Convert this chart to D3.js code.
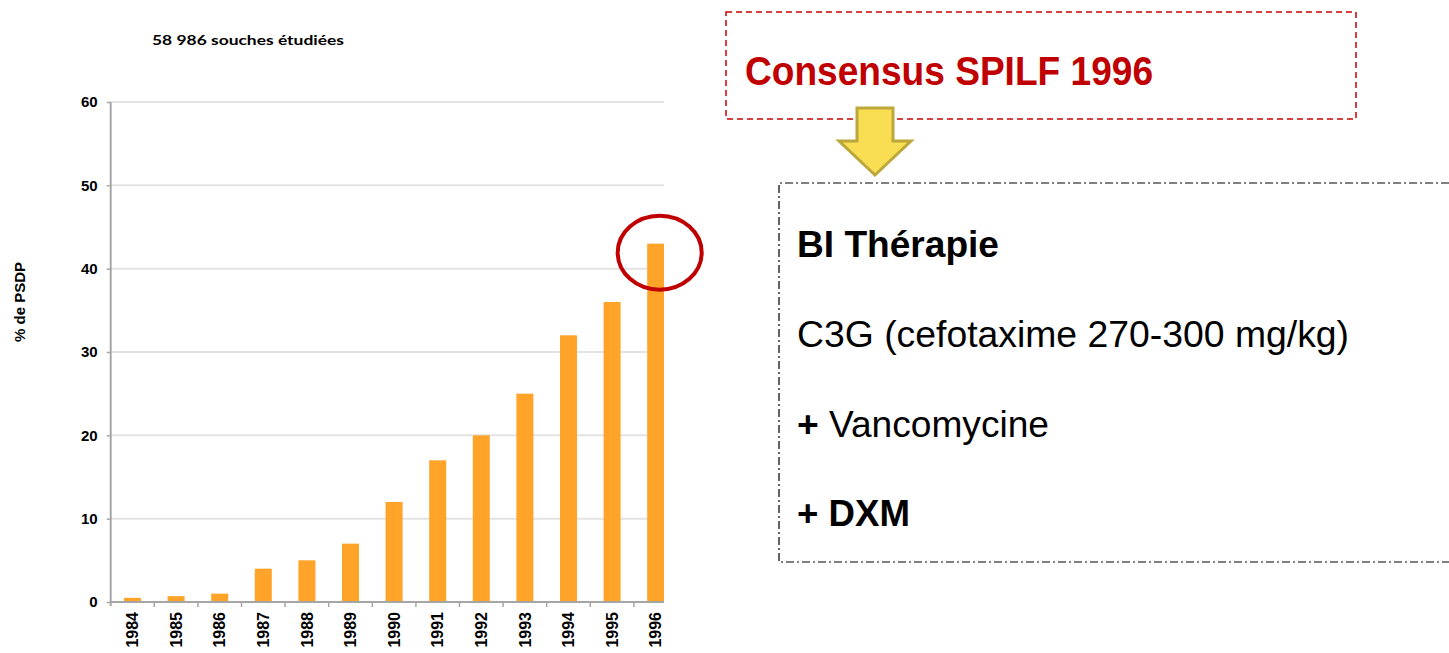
<!DOCTYPE html>
<html>
<head>
<meta charset="utf-8">
<script src="https://cdn.jsdelivr.net/npm/d3@7"></script>
<style>
  body { margin: 0; background: #fff; }
  svg { display: block; font-family: "Liberation Sans", Arial, sans-serif; }
</style>
</head>
<body>
<svg id="chart" width="1449" height="653"></svg>
<script>
// Data
const years = ['1984', '1985', '1986', '1987', '1988', '1989', '1990', '1991', '1992', '1993', '1994', '1995', '1996'];
const psdp = [0.5, 0.7, 1, 4, 5, 7, 12, 17, 20, 25, 32, 36, 43];
const yTicks = [0, 10, 20, 30, 40, 50, 60];
const highlightYear = '1996';

const svg = d3.select('#chart');

// Plot area
const plotLeft = 110.7, plotBottom = 602, plotTop = 102;
const step = 43.6;
const plotRight = 664;

const x = d3.scaleBand()
    .domain(years)
    .range([plotLeft, plotLeft + step * years.length])
    .paddingInner(0.61)
    .paddingOuter(0.305);

const y = d3.scaleLinear()
    .domain([0, 60])
    .range([plotBottom, plotTop]);

svg.append('defs').append('clipPath')
    .attr('id', 'plotClip')
    .append('rect')
    .attr('x', plotLeft).attr('y', 0)
    .attr('width', plotRight - plotLeft).attr('height', 653);

// Gridlines
svg.append('g')
    .selectAll('line')
    .data(yTicks.filter(d => d > 0))
    .enter()
    .append('line')
    .attr('x1', plotLeft).attr('x2', plotRight)
    .attr('y1', d => y(d)).attr('y2', d => y(d))
    .attr('stroke', '#e3e3e3')
    .attr('stroke-width', 2);

// Bars
svg.append('g')
    .attr('clip-path', 'url(#plotClip)')
    .selectAll('rect')
    .data(years)
    .enter()
    .append('rect')
    .attr('x', d => x(d))
    .attr('width', x.bandwidth())
    .attr('y', (d, i) => y(psdp[i]))
    .attr('height', (d, i) => plotBottom - y(psdp[i]))
    .attr('fill', '#ffa329');

// Y axis
const yAxis = svg.append('g')
    .attr('transform', `translate(${plotLeft},0)`)
    .call(d3.axisLeft(y).tickValues(yTicks).tickSize(4).tickPadding(9));
yAxis.select('.domain').attr('stroke', '#a6a6a6').attr('stroke-width', 2).attr('d', `M0,${plotTop}V${plotBottom + 4}`);
yAxis.selectAll('.tick line').attr('stroke', '#a6a6a6').attr('stroke-width', 1.5);
yAxis.selectAll('.tick text')
    .style('font-size', '15px')
    .style('font-weight', 'bold')
    .style('fill', '#000');

// X axis
const xAxis = svg.append('g')
    .attr('transform', `translate(0,${plotBottom})`)
    .call(d3.axisBottom(x).tickSize(0).tickPadding(10));
xAxis.select('.domain').attr('stroke', '#a6a6a6').attr('stroke-width', 2).attr('d', `M${plotLeft},0H${plotRight}`);
xAxis.selectAll('.tick text')
    .attr('transform', 'rotate(-90)')
    .attr('x', -10)
    .attr('y', 0)
    .attr('dy', '0.35em')
    .style('text-anchor', 'end')
    .style('font-size', '16px')
    .style('font-weight', 'bold')
    .style('fill', '#000');

// Category separators below the axis
svg.append('g')
    .selectAll('line')
    .data(years.slice(1))
    .enter()
    .append('line')
    .attr('x1', d => x(d) - x.step() * x.paddingInner() / 2)
    .attr('x2', d => x(d) - x.step() * x.paddingInner() / 2)
    .attr('y1', plotBottom).attr('y2', plotBottom + 5)
    .attr('stroke', '#a6a6a6')
    .attr('stroke-width', 1.5);

// Title and axis label
svg.append('text')
    .attr('x', 152).attr('y', 45)
    .attr('textLength', 192)
    .attr('lengthAdjust', 'spacingAndGlyphs')
    .style('font-family', 'Lato, "Open Sans", sans-serif')
    .style('font-size', '14px')
    .style('font-weight', 'bold')
    .text('58 986 souches étudiées');

svg.append('text')
    .attr('transform', 'translate(25,302) rotate(-90)')
    .attr('text-anchor', 'middle')
    .attr('textLength', 80)
    .attr('lengthAdjust', 'spacingAndGlyphs')
    .style('font-size', '14px')
    .style('font-weight', 'bold')
    .text('% de PSDP');

// Highlight ring around the last bar
const hi = years.indexOf(highlightYear);
svg.append('ellipse')
    .attr('cx', x(highlightYear) + x.bandwidth() / 2 + 4)
    .attr('cy', y(psdp[hi]) + 9)
    .attr('rx', 42)
    .attr('ry', 37)
    .attr('fill', 'none')
    .attr('stroke', '#c00000')
    .attr('stroke-width', 4);

// Consensus box
svg.append('rect')
    .attr('x', 726).attr('y', 12)
    .attr('width', 630).attr('height', 107)
    .attr('fill', 'none')
    .attr('stroke', '#cc0000')
    .attr('stroke-width', 1.5)
    .attr('stroke-dasharray', '6,4');

svg.append('text')
    .attr('x', 745).attr('y', 85)
    .attr('textLength', 408)
    .attr('lengthAdjust', 'spacingAndGlyphs')
    .style('font-size', '40px')
    .style('font-weight', 'bold')
    .style('fill', '#c00000')
    .text('Consensus SPILF 1996');

// Arrow
svg.append('path')
    .attr('d', 'M857,108 L893,108 L893,141 L911,141 L875,175 L839,141 L857,141 Z')
    .attr('fill', '#f9dd52')
    .attr('stroke', '#bca73a')
    .attr('stroke-width', 3)
    .attr('stroke-linejoin', 'miter');

// Therapy box
svg.append('path')
    .attr('d', 'M1449,183 H779 V562 H1449')
    .attr('fill', 'none')
    .attr('stroke', '#000')
    .attr('stroke-width', 1.2)
    .attr('stroke-dasharray', '8,3,2,3');

const lines = [
    { y: 257, parts: [{ t: 'BI Thérapie', b: true }], w: 202 },
    { y: 347, parts: [{ t: 'C3G (cefotaxime 270-300 mg/kg)', b: false }], w: 552 },
    { y: 437, parts: [{ t: '+ ', b: true }, { t: 'Vancomycine', b: false }], w: 252 },
    { y: 526, parts: [{ t: '+ DXM', b: true }], w: 113 }
];

lines.forEach(l => {
    const t = svg.append('text')
        .attr('x', 797).attr('y', l.y)
        .attr('textLength', l.w)
        .attr('lengthAdjust', 'spacingAndGlyphs')
        .style('font-size', '36px');
    l.parts.forEach(p => {
        t.append('tspan')
            .style('font-weight', p.b ? 'bold' : 'normal')
            .text(p.t);
    });
});
</script>
</body>
</html>
